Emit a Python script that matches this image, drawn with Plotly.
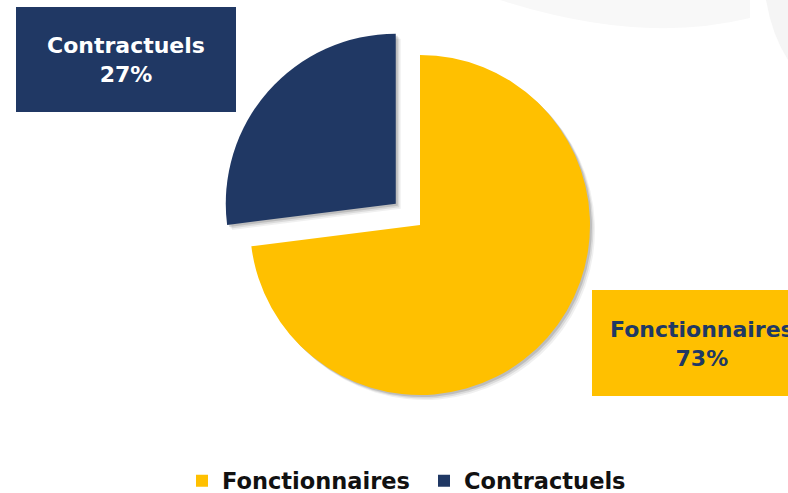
import plotly.graph_objects as go

# ---- data ----
categories = ["Fonctionnaires", "Contractuels"]
values = [73, 27]
colors = ["#FFC000", "#203864"]
pulls = [0, 0.19]

W, H = 788, 493
FONT = "DejaVu Sans"

def px_x(x):
    return x / W

def px_y(y):
    return 1 - y / H

# pie centre (420,225) radius 170 -> domain half-size r*(1+pull)
cx, cy, r = 420, 225, 170
half = r * (1 + max(pulls))

def domain(dx=0, dy=0):
    return dict(
        x=[px_x(cx + dx - half), px_x(cx + dx + half)],
        y=[px_y(cy + dy + half), px_y(cy + dy - half)],
    )

fig = go.Figure()

# soft shadow layers
for off, alpha in [(5, 0.06), (3.5, 0.09), (2, 0.13)]:
    fig.add_trace(go.Pie(
        labels=categories, values=values, sort=False, direction="clockwise",
        rotation=0, pull=pulls, textinfo="none", hoverinfo="skip",
        marker=dict(colors=[f"rgba(0,0,0,{alpha})"] * 2, line=dict(width=0)),
        domain=domain(off, off), showlegend=False,
    ))

fig.add_trace(go.Pie(
    labels=categories, values=values, sort=False, direction="clockwise",
    rotation=0, pull=pulls, textinfo="none",
    marker=dict(colors=colors, line=dict(width=0)),
    domain=domain(), showlegend=True,
))

# faint background arc top right
fig.add_shape(type="path", xref="paper", yref="paper", layer="below",
              path=f"M {px_x(500)},{px_y(0)} Q {px_x(640)},{px_y(45)} {px_x(750)},{px_y(18)} L {px_x(750)},{px_y(0)} Z",
              fillcolor="#f8f8f8", line=dict(width=0))
fig.add_shape(type="path", xref="paper", yref="paper", layer="below",
              path=f"M {px_x(766)},{px_y(0)} Q {px_x(772)},{px_y(35)} {px_x(788)},{px_y(60)} L {px_x(788)},{px_y(0)} Z",
              fillcolor="#f5f5f5", line=dict(width=0))

# label boxes
boxes = [
    dict(cat=1, x0=16, x1=236, y0=7, y1=112, fill=colors[1], txt="white"),
    dict(cat=0, x0=592, x1=812, y0=290, y1=396, fill=colors[0], txt=colors[1]),
]
for b in boxes:
    fig.add_shape(type="rect", xref="paper", yref="paper",
                  x0=px_x(b["x0"]), x1=px_x(b["x1"]),
                  y0=px_y(b["y1"]), y1=px_y(b["y0"]),
                  fillcolor=b["fill"], line=dict(width=0))
    i = b["cat"]
    pct = round(100 * values[i] / sum(values))
    fig.add_annotation(
        xref="paper", yref="paper",
        x=px_x((b["x0"] + b["x1"]) / 2), y=px_y((b["y0"] + b["y1"]) / 2 + 1),
        text=f"{categories[i]}<br>{pct}%", showarrow=False,
        xanchor="center", yanchor="middle", align="center",
        font=dict(family=FONT, size=22, color=b["txt"], weight="bold"),
    )

fig.update_layout(
    width=W, height=H,
    margin=dict(l=0, r=0, t=0, b=0, autoexpand=False),
    paper_bgcolor="white", plot_bgcolor="white",
    legend=dict(orientation="h", x=px_x(182), xanchor="left",
                y=px_y(481), yanchor="middle", entrywidth=197,
                font=dict(family=FONT, size=22.5, color="#111111", weight="bold"),
                traceorder="normal"),
)

fig.write_html("out.html", config={"displayModeBar": False},
               post_script="document.body.style.margin='0';document.body.style.overflow='hidden';")
